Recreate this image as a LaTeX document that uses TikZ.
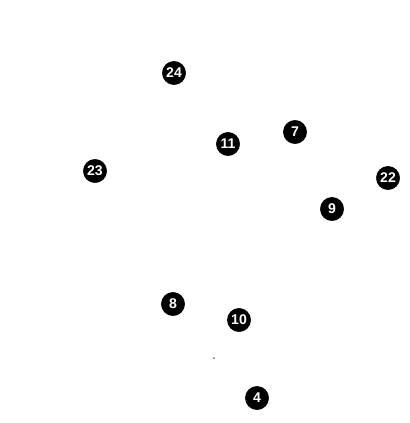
\documentclass[tikz,border=0pt]{standalone}
\usepackage{fontspec}
\setsansfont{Liberation Sans}
\usepackage{tikz}
\usetikzlibrary{positioning}
\tikzset{
  site/.style={circle,draw=black,fill=black,text=white,
               minimum size=7mm,font=\large\sffamily\bfseries,inner sep=0pt},
  speck/.style={circle,fill=black!60,minimum size=0.6mm,inner sep=0pt},
}
\begin{document}
\begin{tikzpicture}[x=0.03cm,y=-0.03cm]
    \useasboundingbox (0,0) rectangle (409,423);
    \node[site] (n24) at (174,73)  {24};
    \node[site] (n11) at (228,144) {11};
    \node[site] (n7)  at (295,132) {7};
    \node[site] (n23) at (95,171)  {23};
    \node[site] (n22) at (388,178) {22};
    \node[site] (n9)  at (332,209) {9};
    \node[site] (n8)  at (173,304) {8};
    \node[site] (n10) at (239,320) {10};
    \node[site] (n4)  at (257,398) {4};
    \node[speck] (dot) at (214,358) {};
\end{tikzpicture}
\end{document}
